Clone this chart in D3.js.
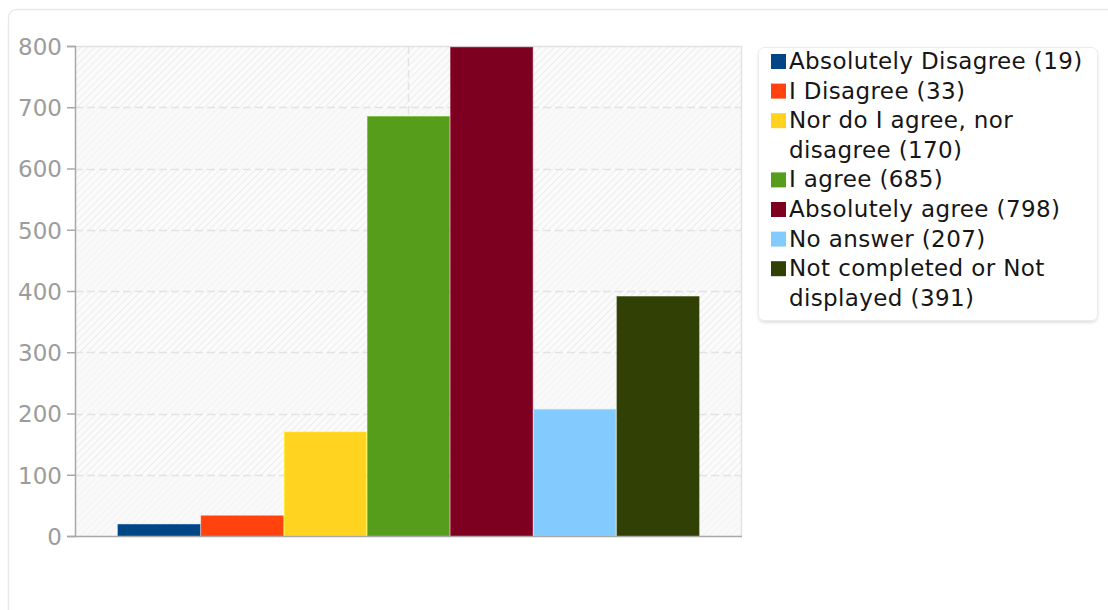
<!DOCTYPE html>
<html>
<head>
<meta charset="utf-8">
<script src="https://cdn.jsdelivr.net/npm/d3@7"></script>
<style>
  html, body { margin: 0; padding: 0; background: #fff; }
  svg { display: block; }
  text { font-family: "DejaVu Sans", sans-serif; }
</style>
</head>
<body>
<svg id="chart" width="1108" height="610"></svg>
<script>
// ---- data ----
const categories = [
  "Absolutely Disagree",
  "I Disagree",
  "Nor do I agree, nor disagree",
  "I agree",
  "Absolutely agree",
  "No answer",
  "Not completed or Not displayed"
];
const values = [19, 33, 170, 685, 798, 207, 391];
const colors = ["#004586", "#ff420e", "#ffd320", "#579d1c", "#7e0021", "#83caff", "#314004"];
const yTicks = [0, 100, 200, 300, 400, 500, 600, 700, 800];

// ---- layout ----
const plot = { left: 75, right: 742, top: 46, bottom: 536 };
const svg = d3.select("#chart");
const defs = svg.append("defs");

// outer container
svg.append("rect")
  .attr("x", 8.5).attr("y", 9.5)
  .attr("width", 1130).attr("height", 640)
  .attr("rx", 8)
  .attr("fill", "#fff")
  .attr("stroke", "#e9e9e9")
  .attr("stroke-width", 1.5);

// scales
const y = d3.scaleLinear().domain([0, 800]).range([plot.bottom, plot.top]);
const x = d3.scaleBand().domain(categories)
  .range([plot.left, plot.right])
  .paddingInner(0).paddingOuter(0.51);

// hatch pattern
const pat = defs.append("pattern")
  .attr("id", "hatch").attr("patternUnits", "userSpaceOnUse")
  .attr("width", 5).attr("height", 5)
  .attr("patternTransform", "rotate(45)");
pat.append("rect").attr("width", 5).attr("height", 5).attr("fill", "#fbfbfb");
pat.append("line").attr("x1", 0).attr("y1", 0).attr("x2", 0).attr("y2", 5)
  .attr("stroke", "#e9e9e9").attr("stroke-width", 1.5);

const g = svg.append("g");

// plot background
g.append("rect")
  .attr("x", plot.left).attr("y", plot.top)
  .attr("width", plot.right - plot.left).attr("height", plot.bottom - plot.top)
  .attr("fill", "url(#hatch)");

// alternating lighter bands
g.selectAll("rect.band").data(yTicks.slice(0, -1).filter(d => (d / 100) % 2 === 0)).join("rect")
  .attr("class", "band")
  .attr("x", plot.left)
  .attr("y", d => y(d + 100) + 1)
  .attr("width", plot.right - plot.left)
  .attr("height", d => y(d) - y(d + 100) - 1)
  .attr("fill", "#f8f8f8").attr("opacity", 0.55);

// horizontal grid lines
g.selectAll("line.hgrid").data(yTicks.filter(d => d > 0 && d < 800)).join("line")
  .attr("class", "hgrid")
  .attr("x1", plot.left).attr("x2", plot.right)
  .attr("y1", d => Math.round(y(d)) + 0.5).attr("y2", d => Math.round(y(d)) + 0.5)
  .attr("stroke", "#e3e3e3").attr("stroke-width", 1.5)
  .attr("stroke-dasharray", "8,4");

// vertical grid line at group centre
const cx = (plot.left + plot.right) / 2;
g.append("line")
  .attr("x1", cx).attr("x2", cx)
  .attr("y1", plot.top).attr("y2", plot.bottom)
  .attr("stroke", "#e3e3e3").attr("stroke-width", 1.5)
  .attr("stroke-dasharray", "8,4");

// plot frame (top & right light)
g.append("line").attr("x1", plot.left).attr("x2", plot.right)
  .attr("y1", plot.top + 0.5).attr("y2", plot.top + 0.5)
  .attr("stroke", "#e2e2e2").attr("stroke-width", 1.5);
g.append("line").attr("x1", plot.right - 0.5).attr("x2", plot.right - 0.5)
  .attr("y1", plot.top).attr("y2", plot.bottom)
  .attr("stroke", "#e2e2e2").attr("stroke-width", 1.5);

// bars
g.selectAll("rect.bar").data(categories).join("rect")
  .attr("class", "bar")
  .attr("x", d => x(d) + 0.5)
  .attr("y", (d, i) => y(values[i]))
  .attr("width", x.bandwidth() - 1)
  .attr("height", (d, i) => y(0) - y(values[i]))
  .attr("fill", (d, i) => colors[i])
  .attr("stroke", (d, i) => d3.color(colors[i]).brighter(0.6))
  .attr("stroke-width", 0.8)
  .attr("stroke-opacity", 0.6);

// y axis
const yAxis = d3.axisLeft(y).tickValues(yTicks).tickSize(8).tickPadding(5).tickFormat(d3.format("d"));
const ax = svg.append("g").attr("transform", `translate(${plot.left},0)`).call(yAxis);
ax.select(".domain").attr("stroke", "#a8a8a8").attr("stroke-width", 1.5);
ax.selectAll(".tick line").attr("stroke", "#a8a8a8").attr("stroke-width", 1.5);
ax.selectAll(".tick text")
  .attr("fill", "#9c9c9c")
  .style("font-family", "'DejaVu Sans', sans-serif")
  .style("font-size", "23px")
  .attr("dy", "0.36em");

// x axis baseline
svg.append("line")
  .attr("x1", plot.left).attr("x2", plot.right)
  .attr("y1", plot.bottom + 0.5).attr("y2", plot.bottom + 0.5)
  .attr("stroke", "#a8a8a8").attr("stroke-width", 1.5);

// ---- legend ----
const legend = { left: 758, top: 47, right: 1097, bottom: 320 };
defs.append("filter").attr("id", "shadow").attr("x", "-5%").attr("y", "-5%").attr("width", "110%").attr("height", "115%")
  .append("feDropShadow").attr("dx", 0).attr("dy", 2).attr("stdDeviation", 1.5)
  .attr("flood-color", "#000").attr("flood-opacity", 0.12);
svg.append("rect")
  .attr("x", legend.left + 0.5).attr("y", legend.top + 0.5)
  .attr("width", legend.right - legend.left).attr("height", legend.bottom - legend.top)
  .attr("rx", 6)
  .attr("fill", "#fff").attr("stroke", "#ececec").attr("stroke-width", 1)
  .attr("filter", "url(#shadow)");

const lg = svg.append("g");
const textX = 789, swX = 771, sw = 15;
const lineH = 29.6;
const maxW = 305;
const ls = "0.38px";
let baseline = 69;

// measure helper
const measurer = svg.append("text").style("font-size", "23px").style("letter-spacing", ls).attr("opacity", 0);
function wrap(str) {
  const words = str.split(" ");
  const lines = [];
  let cur = "";
  words.forEach(w => {
    const test = cur ? cur + " " + w : w;
    measurer.text(test);
    if (cur && measurer.node().getComputedTextLength() > maxW) {
      lines.push(cur);
      cur = w;
    } else cur = test;
  });
  if (cur) lines.push(cur);
  return lines;
}

categories.forEach((c, i) => {
  const lines = wrap(`${c} (${values[i]})`);
  lg.append("rect")
    .attr("x", swX).attr("y", baseline - sw)
    .attr("width", sw).attr("height", sw)
    .attr("fill", colors[i]);
  lines.forEach((ln, j) => {
    lg.append("text")
      .attr("x", textX).attr("y", baseline + j * lineH)
      .style("font-size", "23px")
      .style("letter-spacing", ls)
      .attr("fill", "#161616")
      .text(ln);
  });
  baseline += lines.length * lineH;
});
measurer.remove();
</script>
</body>
</html>
